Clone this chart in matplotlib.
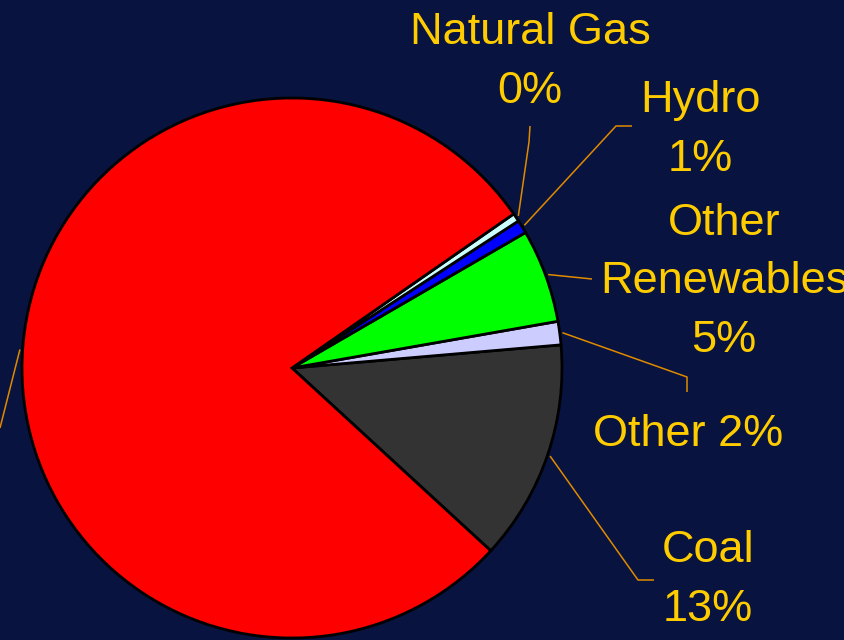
import numpy as np
import matplotlib.pyplot as plt

plt.rcParams['font.family'] = ['Liberation Sans', 'DejaVu Sans']

# slices in drawing order (counter-clockwise from the coal edge)
sources = ['Coal', 'Other', 'Other Renewables', 'Hydro', 'Natural Gas', 'Nuclear']
shares = [13.2, 1.4, 5.6, 0.8, 0.5, 78.5]
pct_labels = ['13%', '2%', '5%', '1%', '0%', '78%']
colors = ['#333333', '#CCCCFF', '#00FF00', '#0000FF', '#CCFFFF', '#FF0000']

BG = '#08133f'
TXT = '#FFCC00'
LEAD = '#E08A00'

W, H = 845, 640
CX, CY, R = 292, H - 368, 270
START = -42.6

fig = plt.figure(figsize=(8.45, 6.4), dpi=100)
fig.patch.set_facecolor(BG)
ax = fig.add_axes([0, 0, 1, 1])
ax.set_facecolor(BG)

wedges, _ = ax.pie(shares, colors=colors, startangle=START, counterclock=True,
                   center=(CX, CY), radius=R, frame=True,
                   wedgeprops=dict(edgecolor='black', linewidth=2))
ax.set_xlim(0, W)
ax.set_ylim(0, H)
ax.set_aspect('equal')
ax.axis('off')


def edge_point(w, k=1.01):
    a = np.radians((w.theta1 + w.theta2) / 2)
    return CX + k * R * np.cos(a), CY + k * R * np.sin(a)


# leader elbows and label positions (pixel coords, y from top)
leaders = {
    'Coal': ([(638, 580), (654, 580)], 'Coal\n', (708, 580)),
    'Other': ([(687, 377), (687, 392)], 'Other ', (688, 435)),
    'Other Renewables': ([(592, 279)], 'Other\nRenewables\n', (724, 282)),
    'Hydro': ([(616, 126), (632, 126)], 'Hydro\n', (700, 130)),
    'Natural Gas': ([(529, 142), (530, 126)], 'Natural Gas\n', (530, 62)),
    'Nuclear': ([(0, 428)], None, None),
}

for name, w, pct in zip(sources, wedges, pct_labels):
    pts, text, pos = leaders[name]
    x0, y0 = edge_point(w)
    xs = [x0] + [p[0] for p in pts]
    ys = [y0] + [H - p[1] for p in pts]
    ax.plot(xs, ys, color=LEAD, lw=1.1, solid_capstyle='butt')
    if text:
        ax.text(pos[0], H - pos[1], text + pct, color=TXT, fontsize=32.5,
                ha='center', va='center', linespacing=1.55)

fig.savefig('out.png', dpi=100, facecolor=BG)
